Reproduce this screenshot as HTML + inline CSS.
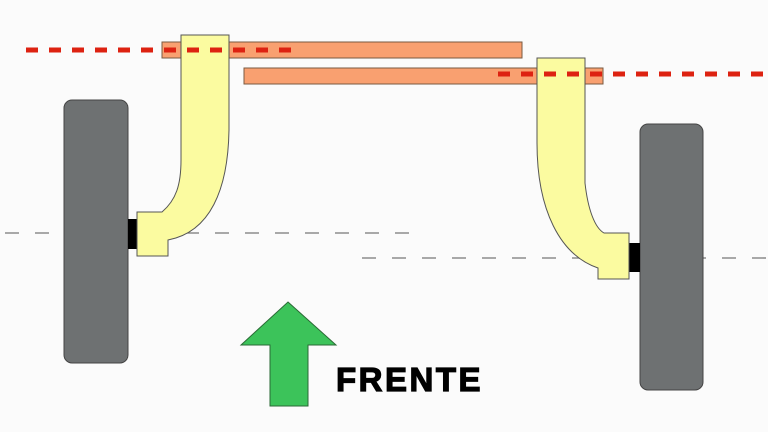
<!DOCTYPE html>
<html><head><style>
html,body{margin:0;padding:0;background:#fbfbfb;}
svg{display:block;}
</style></head><body>
<svg width="768" height="432" viewBox="0 0 768 432" xmlns="http://www.w3.org/2000/svg">
<rect width="768" height="432" fill="#fbfbfb"/>
<line x1="5" y1="233" x2="412" y2="233" stroke="#777" stroke-width="1.3" stroke-dasharray="14,16"/>
<line x1="362" y1="258" x2="768" y2="258" stroke="#777" stroke-width="1.3" stroke-dasharray="14,16"/>
<rect x="64" y="100" width="64" height="263" rx="8" fill="#6e7172" stroke="#444" stroke-width="1"/>
<rect x="640" y="124" width="63" height="266" rx="8" fill="#6e7172" stroke="#444" stroke-width="1"/>
<rect x="128" y="219" width="10" height="30" fill="#000"/>
<rect x="629" y="243" width="11" height="29" fill="#000"/>
<rect x="162" y="42" width="360" height="16" fill="#f9a070" stroke="#7a5a40" stroke-width="1"/>
<rect x="244" y="68" width="359" height="16" fill="#f9a070" stroke="#7a5a40" stroke-width="1"/>
<path d="M181,35 L229,35 L229,130 C228,190 210,232 168,240 L168,256 L137,256 L137,212 L162,212 C176,200 181,185 181,160 Z" fill="#fbfba0" stroke="#555" stroke-width="1"/>
<path d="M537,58 L585,58 L585,183 C588,210 595,228 604,233 L629,233 L629,279 L598,279 L598,268 C560,255 537,210 537,143 Z" fill="#fbfba0" stroke="#555" stroke-width="1"/>
<line x1="26" y1="50" x2="295" y2="50" stroke="#dd2211" stroke-width="5" stroke-dasharray="12,11"/>
<line x1="498" y1="74" x2="768" y2="74" stroke="#dd2211" stroke-width="5" stroke-dasharray="12,11"/>
<path d="M288,302 L336,345 L308,345 L308,406 L270,406 L270,345 L241,345 Z" fill="#3cc35a" stroke="#2a6a35" stroke-width="1"/>
<text x="336" y="391" font-family="Liberation Sans, sans-serif" font-weight="bold" font-size="33" letter-spacing="2.5" fill="#000" stroke="#000" stroke-width="1.2">FRENTE</text>
</svg>
</body></html>
